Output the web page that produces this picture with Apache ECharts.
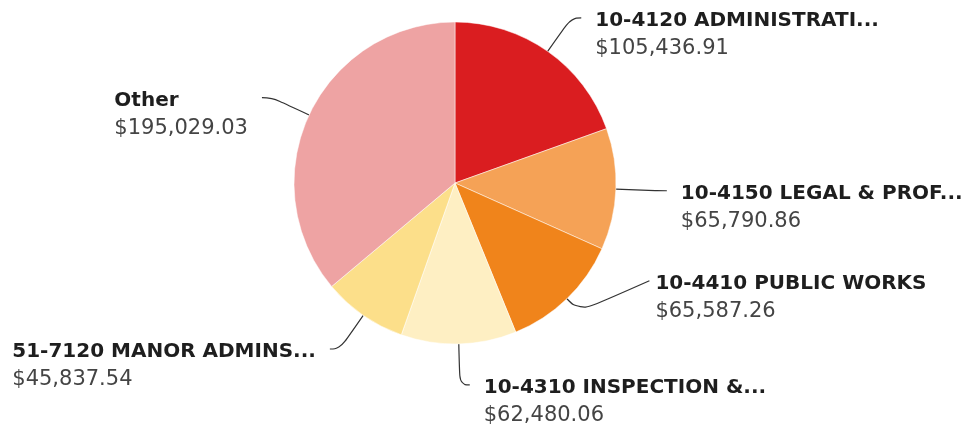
<!DOCTYPE html>
<html>
<head>
<meta charset="utf-8">
<script src="https://cdn.jsdelivr.net/npm/echarts@6/dist/echarts.min.js"></script>
<style>
html,body{margin:0;padding:0;background:#fff;}
#chart{width:968px;height:428px;}
</style>
</head>
<body>
<div id="chart"></div>
<script>
const categories = [
  "10-4120 ADMINISTRATI...",
  "10-4150 LEGAL & PROF...",
  "10-4410 PUBLIC WORKS",
  "10-4310 INSPECTION &...",
  "51-7120 MANOR ADMINS...",
  "Other"
];
const values = [105436.91, 65790.86, 65587.26, 62480.06, 45837.54, 195029.03];
const colors = ["#DA1D20", "#F5A256", "#F0841B", "#FEEFC3", "#FCDF8A", "#EEA3A3"];

function fmtMoney(v) {
  return "$" + v.toLocaleString("en-US", {minimumFractionDigits: 2, maximumFractionDigits: 2});
}

const chart = echarts.init(document.getElementById("chart"), null, {renderer: "canvas"});
const data = categories.map((c, i) => ({name: c, value: values[i], itemStyle: {color: colors[i]}}));
// Public works label uses a shorter first segment and a longer second one
data[2].labelLine = {length: 18, length2: 70};

chart.setOption({
  animation: false,
  series: [{
    type: "pie",
    center: [455, 183],
    radius: 161,
    startAngle: 90,
    clockwise: true,
    avoidLabelOverlap: false,
    data: data,
    itemStyle: {borderColor: "#fff", borderWidth: 0.5},
    label: {
      show: true,
      position: "outside",
      distanceToLabelLine: 14,
      bleedMargin: 4,
      padding: [34, 0, 0, 0],
      formatter: p => "{name|" + p.name + "}\n{value|" + fmtMoney(p.value) + "}",
      rich: {
        name: {fontFamily: "DejaVu Sans", fontWeight: "bold", fontSize: 20, color: "#1e1e1e", lineHeight: 28, align: "left"},
        value: {fontFamily: "DejaVu Sans", fontSize: 21, color: "#444", lineHeight: 28, align: "left"}
      }
    },
    labelLine: {
      show: true,
      length: 41,
      length2: 10,
      smooth: 0.5,
      lineStyle: {color: "#333", width: 1.2}
    },
    labelLayout: function (params) {
      if (params.dataIndex === 2 && params.labelLinePoints) {
        const pts = params.labelLinePoints;
        const dy = -31;
        return {
          dx: -8,
          dy: dy,
          labelLinePoints: [pts[0], pts[1], [pts[2][0], pts[2][1] + dy]]
        };
      }
    }
  }]
});
</script>
</body>
</html>
